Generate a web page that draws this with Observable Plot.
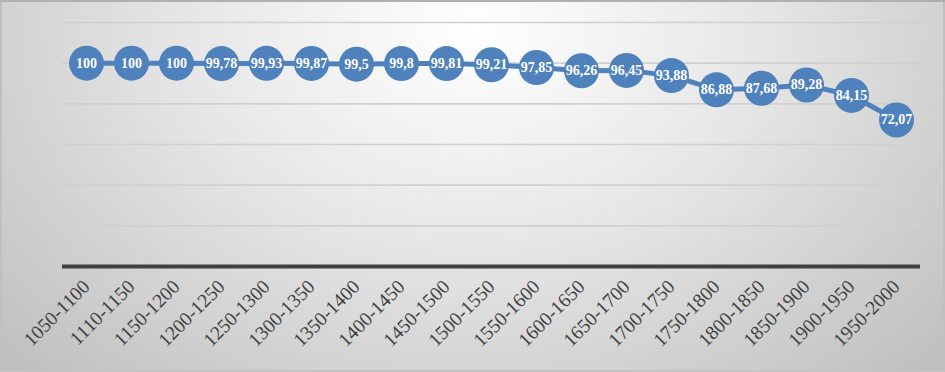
<!DOCTYPE html>
<html>
<head>
<meta charset="utf-8">
<script src="https://cdn.jsdelivr.net/npm/d3@7"></script>
<script src="https://cdn.jsdelivr.net/npm/@observablehq/plot@0.6"></script>
<style>
  html, body { margin: 0; padding: 0; }
  #chart {
    width: 945px; height: 372px; overflow: hidden;
    background: radial-gradient(ellipse 68% 130% at 50% 8%, #ffffff 0%, #e6e6e6 45%, #bfbfbf 100%);
    box-shadow: inset 0 2px 0 0 #b0b0b0, inset 0 -2px 0 0 #c4c4c4, inset 2px 0 0 0 #c0c0c0, inset -2px 0 0 0 #c0c0c0;
  }
  #chart svg { background: transparent; display: block; }
</style>
</head>
<body>
<div id="chart"></div>
<script>
const periods = ["1050-1100","1110-1150","1150-1200","1200-1250","1250-1300","1300-1350","1350-1400","1400-1450","1450-1500","1500-1550","1550-1600","1600-1650","1650-1700","1700-1750","1750-1800","1800-1850","1850-1900","1900-1950","1950-2000"];
const values = [100,100,100,99.78,99.93,99.87,99.5,99.8,99.81,99.21,97.85,96.26,96.45,93.88,86.88,87.68,89.28,84.15,72.07];
const gridTicks = [20,40,60,80,100,120];

const data = periods.map((p, i) => ({period: p, value: values[i], label: String(values[i]).replace(".", ",")}));

const chart = Plot.plot({
  width: 945,
  height: 372,
  marginLeft: 62,
  marginRight: 25,
  marginTop: 22,
  marginBottom: 106,
  style: {background: "transparent", overflow: "visible"},
  x: {type: "point", domain: periods, padding: 0.5},
  y: {domain: [0, 120], axis: null},
  marks: [
    Plot.ruleY(gridTicks, {stroke: "#d0d0d0", strokeWidth: 1.6}),
    Plot.ruleY([0], {stroke: "#404040", strokeWidth: 4}),
    Plot.axisX({
      tickSize: 0,
      tickRotate: -45,
      tickPadding: 17,
      fontSize: 19.5,
      fontFamily: "'Liberation Serif', 'DejaVu Serif', serif",
      fill: "#404040",
      label: null
    }),
    Plot.line(data, {x: "period", y: "value", stroke: "#4f81bd", strokeWidth: 5}),
    Plot.dot(data, {x: "period", y: "value", r: 17.5, fill: "#4f81bd", stroke: "none"}),
    Plot.text(data, {x: "period", y: "value", text: "label", fill: "white", fontSize: 14, fontWeight: "bold", fontFamily: "'Liberation Serif', 'DejaVu Serif', serif"})
  ]
});
document.getElementById("chart").appendChild(chart);
</script>
</body>
</html>
